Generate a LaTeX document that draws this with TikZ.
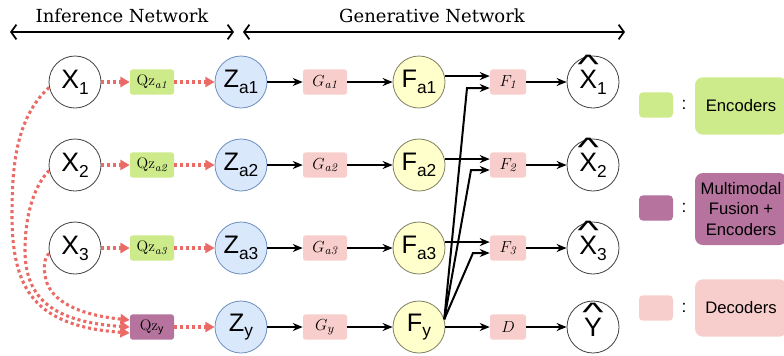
\documentclass[tikz,border=0pt]{standalone}
\usepackage{fontspec}
\usepackage{graphicx}
\newfontfamily\hv{Liberation Sans}
\newfontfamily\hdr{DejaVu Serif}
\usetikzlibrary{arrows.meta,calc}
\definecolor{encg}{HTML}{CDEB8B}
\definecolor{fusp}{HTML}{B5739D}
\definecolor{decp}{HTML}{F8CECC}
\definecolor{zfill}{HTML}{DAE8FC}
\definecolor{zdraw}{HTML}{6C8EBF}
\definecolor{ffill}{HTML}{FFFFCC}
\definecolor{fdraw}{HTML}{7F7F60}
\definecolor{reddot}{HTML}{EA6B66}
\newcommand{\lsub}[1]{\raisebox{-0.42ex}{\fontsize{13}{13}\selectfont #1}}
\newcommand{\hatted}[1]{\ooalign{#1\cr\hidewidth\raisebox{0.56em}{\scalebox{1.7}[1.0]{\char"005E}}\hidewidth\cr}}
\begin{document}
\begin{tikzpicture}[x=0.75pt,y=-0.75pt,
  xnode/.style={circle,draw=black!75,line width=0.6pt,fill=white,minimum size=39pt,inner sep=0pt,font=\hv\fontsize{20}{20}\selectfont},
  znode/.style={circle,draw=zdraw,line width=0.6pt,fill=zfill,minimum size=39pt,inner sep=0pt,font=\hv\fontsize{19}{19}\selectfont},
  fnode/.style={circle,draw=fdraw,line width=0.6pt,fill=ffill,minimum size=39pt,inner sep=0pt,font=\hv\fontsize{19}{19}\selectfont},
  qbox/.style={rectangle,rounded corners=2pt,fill=encg,minimum width=33pt,minimum height=19pt,inner sep=0pt,font=\fontsize{11.5}{11.5}\selectfont},
  gbox/.style={rectangle,rounded corners=2pt,fill=decp,minimum width=33pt,minimum height=19pt,inner sep=0pt,font=\fontsize{12.5}{12.5}\selectfont},
  fbox/.style={rectangle,rounded corners=2pt,fill=decp,minimum width=27pt,minimum height=19pt,inner sep=0pt,font=\fontsize{12.5}{12.5}\selectfont},
  blk/.style={line width=1.5pt,-{Stealth[length=7.5pt,width=6pt]}},
  rdot/.style={reddot,line width=2.3pt,dash pattern=on 2.3pt off 2.2pt,-{Triangle[length=7pt,width=7.5pt]}},
  hdrarrow/.style={line width=1.3pt,{Straight Barb[length=4pt,width=11pt]}-{Straight Barb[length=4pt,width=11pt]}},
  legsmall/.style={rectangle,rounded corners=3pt,minimum width=25.5pt,minimum height=19pt,inner sep=0pt},
  legbig/.style={rectangle,rounded corners=6pt,minimum width=69pt,inner sep=0pt,font=\hv\fontsize{12.5}{15.5}\selectfont,align=center}
]
\clip (0,0) rectangle (784,355);
\fill[white] (0,0) rectangle (784,355);

% header
\node[font=\hdr\fontsize{13.5}{15}\selectfont] (hinf) at (122,16) {Inference Network};
\node[font=\hdr\fontsize{13.5}{15}\selectfont] (hgen) at (432,16) {Generative Network};
\coordinate (ha) at (10,32);
\coordinate (hb) at (234,32);
\coordinate (hc) at (243,32);
\coordinate (hd) at (625,32);
\draw[hdrarrow] (ha) -- (hb);
\draw[hdrarrow] (hc) -- (hd);

% row nodes
\node[xnode] (X1) at (75,82) {X\lsub{1}};
\node[xnode] (X2) at (75,165) {X\lsub{2}};
\node[xnode] (X3) at (75,248) {X\lsub{3}};

\node[qbox] (Q1) at (152,82) {Qz\textsubscript{\itshape a1}};
\node[qbox] (Q2) at (152,165) {Qz\textsubscript{\itshape a2}};
\node[qbox] (Q3) at (152,248) {Qz\textsubscript{\itshape a3}};
\node[qbox,fill=fusp] (Qy) at (152,327) {Qz\textsubscript{\hv y}};

\node[znode] (Z1) at (241,82) {Z\lsub{a1}};
\node[znode] (Z2) at (241,165) {Z\lsub{a2}};
\node[znode] (Z3) at (241,248) {Z\lsub{a3}};
\node[znode] (Zy) at (241,327) {Z\lsub{y}};

\node[gbox] (G1) at (325,82) {$G_{\mathit{a1}}$};
\node[gbox] (G2) at (325,165) {$G_{\mathit{a2}}$};
\node[gbox] (G3) at (325,248) {$G_{\mathit{a3}}$};
\node[gbox] (Gy) at (325,327) {$G_{y}$};

\node[fnode] (F1) at (419,82) {F\lsub{a1}};
\node[fnode] (F2) at (419,165) {F\lsub{a2}};
\node[fnode] (F3) at (419,248) {F\lsub{a3}};
\node[fnode] (Fy) at (419,327) {F\lsub{y}};

\node[fbox] (B1) at (508,82) {$F_{\mathit{1}}$};
\node[fbox] (B2) at (508,165) {$F_{\mathit{2}}$};
\node[fbox] (B3) at (508,248) {$F_{\mathit{3}}$};
\node[fbox] (BD) at (508,327) {$D$};

\node[xnode] (H1) at (593,82) {\hatted{X}\lsub{1}};
\node[xnode] (H2) at (593,165) {\hatted{X}\lsub{2}};
\node[xnode] (H3) at (593,248) {\hatted{X}\lsub{3}};
\node[xnode] (Hy) at (593,327) {\hatted{Y}};

% red dotted
\foreach \a/\b/\c in {X1/Q1/Z1,X2/Q2/Z2,X3/Q3/Z3}{
  \draw[rdot] (\a.east) -- (\b.west);
  \draw[rdot] (\b.east) -- (\c.west);
}
\draw[rdot] (Qy.east) -- (Zy.west);
\draw[rdot] (X1.192) .. controls (15,118) and (12,170) .. (12,215) .. controls (12,290) and (35,326) .. ($(Qy.west)+(0,6)$);
\draw[rdot] (X2.192) .. controls (32,188) and (25,220) .. (25,250) .. controls (25,300) and (55,322) .. ($(Qy.west)+(0,0)$);
\draw[rdot] (X3.192) .. controls (44,258) and (43,268) .. (46,280) .. controls (52,302) and (80,315) .. ($(Qy.west)+(0,-7)$);

% black arrows
\foreach \z/\g/\f/\b/\h in {Z1/G1/F1/B1/H1,Z2/G2/F2/B2/H2,Z3/G3/F3/B3/H3}{
  \draw[blk] (\z.east) -- (\g.west);
  \draw[blk] (\g.east) -- (\f.west);
  \draw[blk] (\f.13) -- (\f.13 -| \b.west);
  \draw[blk] (\b.east) -- (\h.west);
}
\draw[blk] (Zy.east) -- (Gy.west);
\draw[blk] (Gy.east) -- (Fy.west);
\draw[blk] (Fy.east) -- (BD.west);
\draw[blk] (BD.east) -- (Hy.west);

\coordinate (fyo) at (Fy.17);
\coordinate (k1) at (467,88);
\coordinate (k2) at (471,170);
\coordinate (k3) at (473,253);
\draw[blk] (fyo) -- (k1) -- (k1 -| B1.west);
\draw[blk] (fyo) -- (k2) -- (k2 -| B2.west);
\draw[blk] (fyo) -- (k3) -- (k3 -| B3.west);

% legend
\node[legsmall,fill=encg] (L1) at (656,105) {};
\node[legsmall,fill=fusp] (L2) at (656,208) {};
\node[legsmall,fill=decp] (L3) at (656,308) {};
\node[font=\hv\fontsize{13}{13}\selectfont] (c1) at (684,105) {:};
\node[font=\hv\fontsize{13}{13}\selectfont] (c2) at (684,208) {:};
\node[font=\hv\fontsize{13}{13}\selectfont] (c3) at (684,308) {:};
\node[legbig,fill=encg,minimum height=43pt] (E1) at (741,106) {Encoders};
\node[legbig,fill=fusp,minimum height=54pt] (E2) at (741,209) {Multimodal\\Fusion +\\Encoders};
\node[legbig,fill=decp,minimum height=43pt] (E3) at (741,308) {Decoders};
\end{tikzpicture}
\end{document}
